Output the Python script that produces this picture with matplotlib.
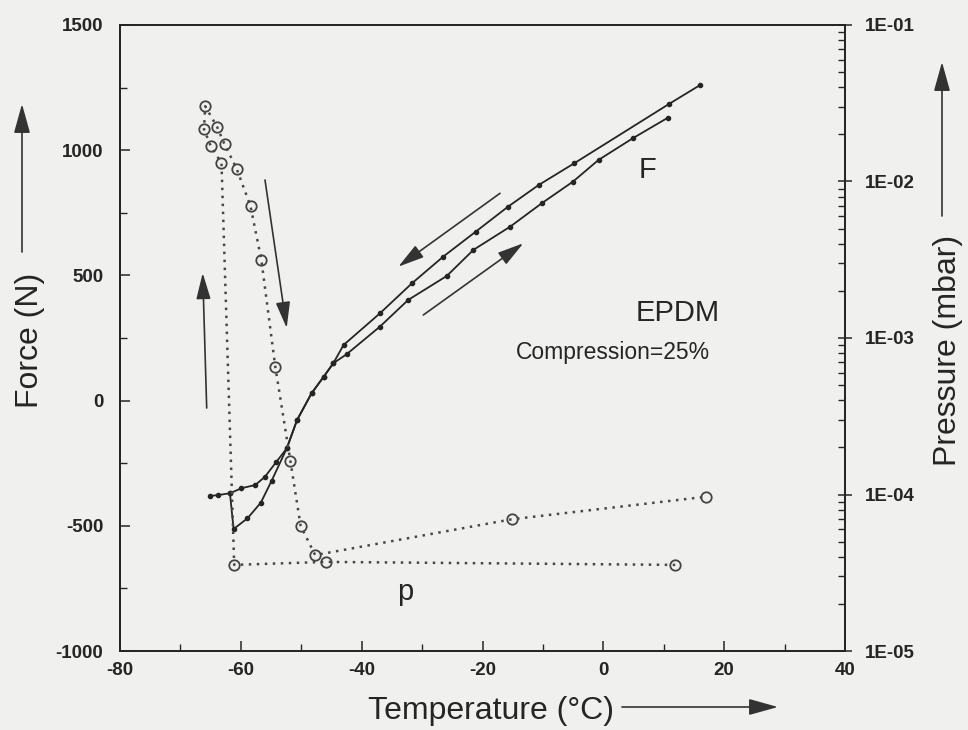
import matplotlib
matplotlib.use("Agg")
import matplotlib.pyplot as plt
from matplotlib.ticker import MultipleLocator, FixedLocator, NullFormatter, LogLocator
import numpy as np

plt.rcParams['font.family'] = ['Liberation Sans', 'DejaVu Sans']
plt.rcParams['axes.unicode_minus'] = False

# ---- data ----
# Force, cooling branch (upper curve), temperature in degC, force in N
cool_T = [16.0, 10.9, -4.8, -10.7, -15.8, -21.1, -26.5, -31.7, -37.0, -43.0,
          -44.7, -46.3, -48.3, -50.7, -52.4, -54.1, -56.0, -57.6, -59.9, -61.8,
          -63.7, -65.1]
cool_F = [1260, 1185, 948, 861, 774, 675, 575, 468, 348, 222,
          149, 95, 29, -78, -191, -244, -304, -337, -350, -370,
          -377, -381]
# Force, warming branch (lower curve)
warm_T = [-61.8, -61.2, -58.9, -56.7, -54.9, -52.4, -50.7, -48.3, -46.3, -44.7,
          -42.5, -37.0, -32.3, -25.9, -21.5, -15.4, -10.2, -5.05, -0.8, 4.9, 10.7]
warm_F = [-370, -513, -470, -408, -320, -191, -78, 29, 95, 149,
          185, 295, 402, 498, 602, 695, 788, 874, 961, 1048, 1130]
# Pressure (mbar), in drawing order of the dotted path
p_T = [11.9, -45.9, -61.1, -63.2, -65.0, -66.1, -65.9, -63.9, -62.7, -60.7,
       -58.4, -56.6, -54.3, -51.8, -50.1, -47.7, -15.1, 17.0]
p_val = [3.55e-5, 3.71e-5, 3.55e-5, 1.31e-2, 1.69e-2, 2.16e-2, 3.03e-2, 2.22e-2,
         1.73e-2, 1.21e-2, 6.97e-3, 3.15e-3, 6.56e-4, 1.64e-4, 6.3e-5, 4.1e-5,
         6.95e-5, 9.68e-5]

x_ticks = [-80, -60, -40, -20, 0, 20, 40]
y_ticks = [-1000, -500, 0, 500, 1000, 1500]
p_ticks = [1e-5, 1e-4, 1e-3, 1e-2, 1e-1]
p_tick_labels = ['1E-05', '1E-04', '1E-03', '1E-02', '1E-01']

BG = '#f0f0ee'
INK = '#252525'

fig = plt.figure(figsize=(9.68, 7.30), dpi=100, facecolor=BG)
W, H = 968, 730
L, R, T, B = 120, 845, 25, 651
ax = fig.add_axes([L / W, 1 - B / H, (R - L) / W, (B - T) / H])
ax.set_facecolor(BG)

ax.plot(cool_T, cool_F, '-', color=INK, lw=1.3, marker='o', ms=3, mfc=INK, mec=INK, zorder=3)
ax.plot(warm_T, warm_F, '-', color=INK, lw=1.3, marker='o', ms=3, mfc=INK, mec=INK, zorder=3)

ax.set_xlim(-80, 40)
ax.set_ylim(-1000, 1500)
ax.xaxis.set_major_locator(FixedLocator(x_ticks))
ax.xaxis.set_minor_locator(MultipleLocator(10))
ax.yaxis.set_major_locator(FixedLocator(y_ticks))
ax.yaxis.set_minor_locator(MultipleLocator(250))
ax.tick_params(axis='both', which='both', direction='in', colors=INK)
ax.tick_params(axis='both', which='major', length=7, width=1.1, labelsize=13.5)
ax.tick_params(axis='both', which='minor', length=5, width=1.0)
ax.tick_params(axis='y', pad=12)
ax.tick_params(axis='x', pad=8)
for lab in ax.get_xticklabels() + ax.get_yticklabels():
    lab.set_fontweight('bold')
for s in ax.spines.values():
    s.set_color(INK)
    s.set_linewidth(1.3)

ax2 = ax.twinx()
ax2.set_yscale('log')
ax2.set_ylim(1e-5, 1e-1)
ax2.plot(p_T, p_val, color='#474747', lw=1.8, linestyle=(0, (1, 2.2)),
         marker='o', ms=7.5, mfc='none', mec='#444444', mew=1.3, zorder=2)
ax2.yaxis.set_major_locator(FixedLocator(p_ticks))
ax2.set_yticklabels(p_tick_labels)
ax2.yaxis.set_minor_locator(LogLocator(base=10, subs=np.arange(2, 10), numticks=20))
ax2.yaxis.set_minor_formatter(NullFormatter())
ax2.tick_params(axis='y', which='major', direction='inout', length=10, width=1.1,
                labelsize=13.5, pad=9, colors=INK)
ax2.tick_params(axis='y', which='minor', direction='in', length=5, width=1.0, colors=INK)
for lab in ax2.get_yticklabels():
    lab.set_fontweight('bold')
for s in ax2.spines.values():
    s.set_color(INK)
    s.set_linewidth(1.3)

def afr(px, py):
    return ((px - L) / (R - L), (B - py) / (B - T))

arrow_kw = dict(arrowstyle='-|>,head_length=0.8,head_width=0.22', color='#333333',
                lw=1.2, mutation_scale=20, shrinkA=0, shrinkB=0)
for (x0, y0), (x1, y1) in [((206.7, 408), (202.7, 273)),
                           ((265, 180), (286.7, 328)),
                           ((500, 193.3), (398.3, 266.7)),
                           ((423.3, 315), (523.3, 243.3))]:
    ax.annotate('', xy=afr(x1, y1), xytext=afr(x0, y0), xycoords='axes fraction',
                textcoords='axes fraction', arrowprops=arrow_kw, zorder=4)

ax.text(*afr(647, 170), 'F', transform=ax.transAxes, fontsize=21, color=INK,
        ha='center', va='center')
ax.text(*afr(720, 313), 'EPDM', transform=ax.transAxes, fontsize=21, color=INK,
        ha='right', va='center')
ax.text(*afr(613, 353), 'Compression=25%', transform=ax.transAxes, fontsize=16.5,
        color=INK, ha='center', va='center')
ax.text(*afr(405, 592), 'p', transform=ax.transAxes, fontsize=21, color=INK,
        ha='center', va='center')

# axis labels with arrows (figure pixel positions)
def ffr(px, py):
    return (px / W, 1 - py / H)

fig.text(*ffr(491, 711), 'Temperature (\u00b0C)', fontsize=23, color=INK,
         ha='center', va='center')
fig.text(*ffr(30, 340), 'Force (N)', fontsize=23, color=INK, rotation=90,
         ha='center', va='center')
fig.text(*ffr(948, 350), 'Pressure (mbar)', fontsize=23, color=INK, rotation=90,
         ha='center', va='center')
fa_kw = dict(arrowstyle='-|>,head_length=0.9,head_width=0.25', color='#333333',
             lw=1.2, mutation_scale=20, shrinkA=0, shrinkB=0)
ax.annotate('', xy=ffr(778, 707), xytext=ffr(622, 707), xycoords='figure fraction',
            textcoords='figure fraction', arrowprops=fa_kw, annotation_clip=False)
ax.annotate('', xy=ffr(22, 104), xytext=ffr(22, 252), xycoords='figure fraction',
            textcoords='figure fraction', arrowprops=fa_kw, annotation_clip=False)
ax.annotate('', xy=ffr(942, 62), xytext=ffr(942, 216), xycoords='figure fraction',
            textcoords='figure fraction', arrowprops=fa_kw, annotation_clip=False)

fig.savefig('out.png', dpi=100, facecolor=BG)
